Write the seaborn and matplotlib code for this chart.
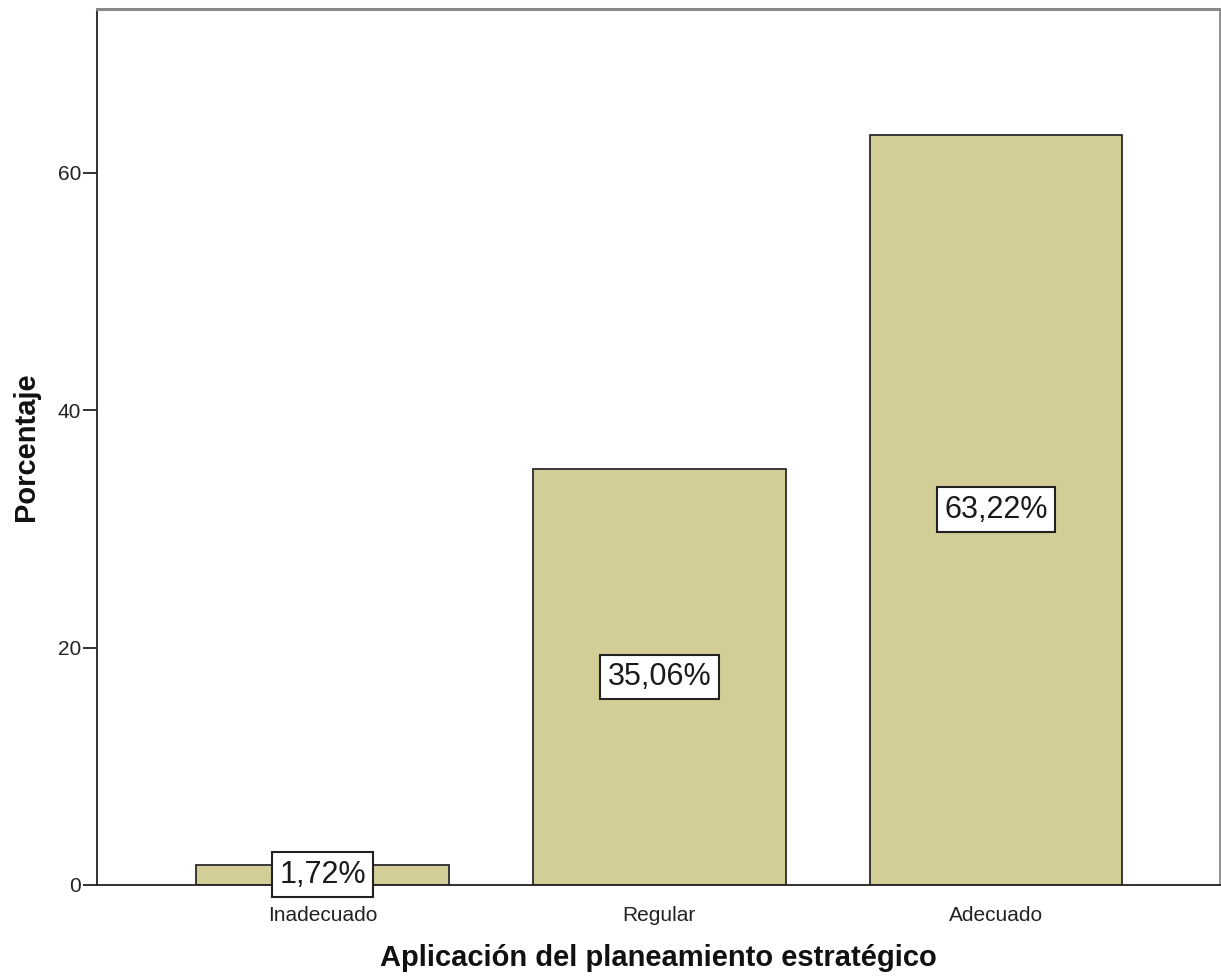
import matplotlib
matplotlib.use("Agg")
import matplotlib.pyplot as plt
import seaborn as sns
import pandas as pd

# data
categorias = ["Inadecuado", "Regular", "Adecuado"]
porcentajes = [1.72, 35.06, 63.22]
etiquetas = ["1,72%", "35,06%", "63,22%"]

df = pd.DataFrame({"categoria": categorias, "porcentaje": porcentajes})

sns.set_style("white")
plt.rcParams["font.family"] = ["Liberation Sans", "DejaVu Sans"]

fig = plt.figure(figsize=(12.21, 9.77), dpi=100)
ax = fig.add_axes([0.0794, 0.0942, 0.9198, 0.8966])

sns.barplot(data=df, x="categoria", y="porcentaje", color="#D3CE97",
            edgecolor="#2b2b2b", linewidth=1.3, width=0.75, saturation=1, ax=ax)

# value labels in boxes at half bar height
for i, (v, lab) in enumerate(zip(porcentajes, etiquetas)):
    ax.text(i, v / 2, lab, ha="center", va="center", fontsize=22, color="#1a1a1a",
            bbox=dict(boxstyle="square,pad=0.24", facecolor="white",
                      edgecolor="#222222", linewidth=1.5), zorder=5)

ax.set_xlim(-0.67, 2.665)
ax.set_ylim(0, 73.8)
ax.set_yticks([0, 20, 40, 60])
ax.tick_params(axis="both", which="both", direction="out", length=10, width=1.3,
               colors="#222222", labelsize=15, left=True, bottom=False, pad=1.5)
ax.tick_params(axis="x", pad=5)

ax.set_xlabel("Aplicación del planeamiento estratégico", fontsize=21,
              fontweight="bold", labelpad=14, color="#111111")
ax.set_ylabel("Porcentaje", fontsize=21, fontweight="bold", labelpad=13, color="#111111")

ax.spines["left"].set_color("#222222")
ax.spines["left"].set_linewidth(1.3)
ax.spines["bottom"].set_color("#222222")
ax.spines["bottom"].set_linewidth(1.3)
ax.spines["top"].set_color("#888888")
ax.spines["top"].set_linewidth(2.2)
ax.spines["right"].set_color("#888888")
ax.spines["right"].set_linewidth(1.3)

fig.savefig("out.png", dpi=100)
